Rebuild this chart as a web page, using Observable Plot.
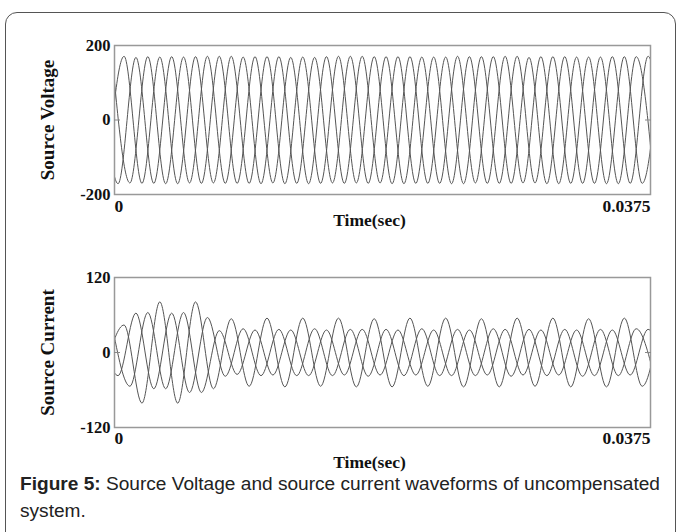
<!DOCTYPE html>
<html><head><meta charset="utf-8">
<script src="https://cdn.jsdelivr.net/npm/d3@7"></script>
<script src="https://cdn.jsdelivr.net/npm/@observablehq/plot@0.6"></script>
<style>
body{margin:0;background:#fff;}
#wrap{position:relative;width:683px;height:532px;overflow:hidden;background:#fff;}
#border{position:absolute;left:5px;top:12px;width:671px;height:540px;border:1.5px solid #555;border-radius:12px;box-sizing:border-box;}
#top{position:absolute;left:0;top:0;}
#bot{position:absolute;left:0;top:235px;}
#cap{position:absolute;left:20px;top:470px;width:660px;font-family:"Liberation Sans",Arial,sans-serif;font-size:19.1px;line-height:27px;color:#222;white-space:nowrap;}
</style></head>
<body><div id="wrap"><div id="border"></div><div id="top"></div><div id="bot"></div>
<div id="cap"><div><b>Figure 5:</b><span> Source Voltage and source current waveforms of uncompensated</span></div><div>system.</div></div></div>
<script>
// Extremum times (ms) of each phase (peaks/troughs alternate)
const tA = [-0.58, 0.67, 1.92, 3.17, 4.42, 5.67, 6.92, 8.17, 9.42, 10.67, 11.92, 13.17, 14.42, 15.67, 16.92, 18.17, 19.42, 20.67, 21.92, 23.17, 24.42, 25.67, 26.92, 28.17, 29.42, 30.67, 31.92, 33.17, 34.42, 35.67, 36.92, 38.17];
const tB = [-1.00, 0.25, 1.50, 2.75, 4.00, 5.25, 6.50, 7.75, 9.00, 10.25, 11.50, 12.75, 14.00, 15.25, 16.50, 17.75, 19.00, 20.25, 21.50, 22.75, 24.00, 25.25, 26.50, 27.75, 29.00, 30.25, 31.50, 32.75, 34.00, 35.25, 36.50, 37.75];
const tC = [-0.17, 1.08, 2.33, 3.58, 4.83, 6.08, 7.33, 8.58, 9.83, 11.08, 12.33, 13.58, 14.83, 16.08, 17.33, 18.58, 19.83, 21.08, 22.33, 23.58, 24.83, 26.08, 27.33, 28.58, 29.83, 31.08, 32.33, 33.58, 34.83, 36.08, 37.33, 38.58];

// Source voltage extremum values (V)
const vA = [-170, 171, -170, 169, -171, 170, -169, 171, -170, 170, -171, 169, -170, 171, -169, 170, -171, 170, -170, 169, -171, 170, -170, 171, -169, 170, -170, 169, -171, 170, -170, 171];
const vB = [170, -171, 168, -170, 170, -169, 171, -170, 169, -171, 170, -170, 168, -169, 171, -170, 170, -171, 169, -170, 171, -169, 170, -170, 168, -171, 170, -170, 169, -171, 170, -170];
const vC = [171, -169, 170, -171, 169, -170, 171, -170, 170, -169, 168, -171, 170, -170, 171, -169, 170, -170, 169, -171, 170, -170, 171, -169, 170, -171, 169, -170, 170, -170, 171, -169];

// Source current extremum values (A)
const iA = [-20, 44, -81, 81, -81, 81, -58, 54, -54, 55, -55, 55, -54, 55, -55, 54, -55, 55, -54, 55, -55, 54, -55, 55, -54, 55, -55, 54, -55, 55, -54, 55];
const iB = [40, -37, 63, -58, 63, -64, 56, -38, 38, -37, 37, -37, 38, -37, 37, -38, 37, -37, 38, -37, 37, -37, 38, -38, 37, -37, 37, -38, 37, -37, 38, -37];
const iC = [44, -54, 64, -58, 64, -64, 35, -35, 36, -36, 36, -37, 36, -36, 37, -36, 36, -36, 36, -37, 36, -36, 37, -36, 36, -36, 36, -37, 36, -36, 37, -36];

const xTicks = [0, 0.0375];
const voltTicks = [-200, 0, 200];
const currTicks = [-120, 0, 120];

function series(t, v, phase) { return t.map((tt, i) => ({t: tt / 1000, v: v[i], phase})); }

const volt = [...series(tA, vA, "a"), ...series(tB, vB, "b"), ...series(tC, vC, "c")];
const curr = [...series(tA, iA, "a"), ...series(tB, iB, "b"), ...series(tC, iC, "c")];

function panel(data, yDomain, yTicks, yLabel, mt, mb, labelDy, tickPad) {
  return Plot.plot({
    width: 683, height: 235,
    marginLeft: 114, marginRight: 33, marginTop: mt, marginBottom: mb,
    style: {fontFamily: "'Liberation Serif','Times New Roman',serif", fontWeight: "bold", fontSize: "16.5px", color: "#111", background: "transparent", overflow: "visible"},
    x: {domain: [0, 0.0375]},
    y: {domain: yDomain},
    marks: [
      Plot.line(data, {x: "t", y: "v", z: "phase", curve: "monotone-x", stroke: "#555", strokeWidth: 1, clip: true}),
      Plot.frame({stroke: "#999", strokeWidth: 1.5}),
      Plot.axisY({ticks: yTicks, tickSize: 0, tickPadding: 4, tickFormat: d => String(d), label: null, fill: "#111"}),
      Plot.axisY({ticks: [0], tickSize: -6, text: null, label: null, stroke: "#888"}),
      Plot.axisY({anchor: "right", ticks: [0], tickSize: -6, text: null, label: null, stroke: "#888"}),
      Plot.axisX({ticks: [xTicks[0]], tickSize: 0, tickPadding: tickPad, textAnchor: "start", tickFormat: d => String(d), label: null, fontSize: 17.5}),
      Plot.axisX({ticks: [xTicks[1]], tickSize: 0, tickPadding: tickPad, textAnchor: "end", tickFormat: d => String(d), label: null, fontSize: 17.5}),
      Plot.text([yLabel], {frameAnchor: "left", textAnchor: "middle", rotate: -90, dx: -67, fontSize: 19, fontWeight: "bold"}),
      Plot.text(["Time(sec)"], {frameAnchor: "bottom", textAnchor: "middle", dx: -13, dy: labelDy, fontSize: 17.5, fontWeight: "bold"})
    ]
  });
}

document.getElementById("top").append(panel(volt, [-200, 200], voltTicks, "Source Voltage", 45, 41, 31, 5));
document.getElementById("bot").append(panel(curr, [-120, 120], currTicks, "Source Current", 42, 43, 40, 4));
</script>
</body></html>
